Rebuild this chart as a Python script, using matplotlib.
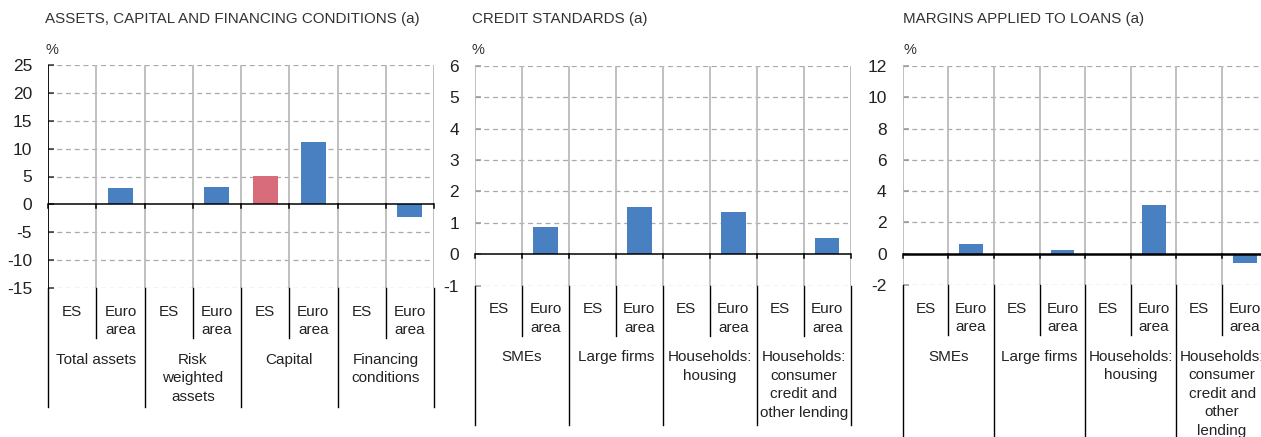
import matplotlib
matplotlib.use("Agg")
import matplotlib.pyplot as plt
from matplotlib.transforms import blended_transform_factory

plt.rcParams['font.family'] = ['Liberation Sans', 'DejaVu Sans']

# data
sub_labels = ["ES", "Euro\narea"]

titles = ["ASSETS, CAPITAL AND FINANCING CONDITIONS (a)",
          "CREDIT STANDARDS (a)",
          "MARGINS APPLIED TO LOANS (a)"]

groups1 = ["Total assets", "Risk\nweighted\nassets", "Capital", "Financing\nconditions"]
es1 = [0, 0, 5.1, 0]
ea1 = [2.9, 3.2, 11.2, -2.3]

groups2 = ["SMEs", "Large firms", "Households:\nhousing",
           "Households:\nconsumer\ncredit and\nother lending"]
es2 = [0, 0, 0, 0]
ea2 = [0.85, 1.5, 1.33, 0.53]

groups3 = ["SMEs", "Large firms", "Households:\nhousing",
           "Households:\nconsumer\ncredit and\nother\nlending"]
es3 = [0, 0, 0, 0]
ea3 = [0.6, 0.22, 3.1, -0.62]

yticks1 = [-15, -10, -5, 0, 5, 10, 15, 20, 25]
yticks2 = [-1, 0, 1, 2, 3, 4, 5, 6]
yticks3 = [-2, 0, 2, 4, 6, 8, 10, 12]

BLUE = "#4880c2"
RED = "#d96c7a"
TXT = "#222222"

W, H = 1261, 437
fig = plt.figure(figsize=(W / 100, H / 100), dpi=100)


def panel(rect, title, title_x, groups, es, ea, yticks, major_px, zero_lw, left_black):
    ax = fig.add_axes(rect)
    ax_h_px = rect[3] * H
    n = len(groups)
    xs_es = [2 * i for i in range(n)]
    xs_ea = [2 * i + 1 for i in range(n)]
    ax.bar(xs_es, es, width=0.52, color=RED, zorder=3)
    ax.bar(xs_ea, ea, width=0.52, color=BLUE, zorder=3)
    ax.set_xlim(-0.5, 2 * n - 0.5)
    ax.set_ylim(yticks[0], yticks[-1])
    ax.set_yticks(yticks)
    ax.set_yticklabels([str(t) for t in yticks], fontsize=12.5, color=TXT)
    ax.tick_params(axis='y', direction='in', length=4, width=1.1,
                   color='#333333' if left_black else '#999999', pad=11.5)
    ax.set_xticks([])
    for t in yticks:
        if t != 0:
            ax.axhline(t, color="#aaaaaa", lw=0.9, ls=(0, (4, 3)), zorder=1)
    for b in range(1, 2 * n):
        ax.axvline(b - 0.5, color="#bbbbbb", lw=1.3, zorder=1)
    ax.axhline(0, color="black", lw=zero_lw, zorder=4)
    for s in ax.spines.values():
        s.set_visible(False)
    ax.axvline(-0.5, color="black" if left_black else "#bbbbbb", lw=1.3, zorder=2)
    ax.axvline(2 * n - 0.5, color="#bbbbbb", lw=1.3, zorder=2)

    tr = blended_transform_factory(ax.transData, ax.transAxes)
    z = (0 - yticks[0]) / (yticks[-1] - yticks[0])
    # small ticks at zero line
    for b in range(0, 2 * n + 1):
        ax.plot([b - 0.5, b - 0.5], [z, z - 4 / ax_h_px], color="black", lw=1.1,
                transform=tr, clip_on=False, zorder=5)
    # separators under the axis
    for b in range(0, 2 * n + 1):
        length = major_px if b % 2 == 0 else 50
        ax.plot([b - 0.5, b - 0.5], [0, -length / ax_h_px], color="black", lw=1.0,
                transform=tr, clip_on=False)
    for i in range(n):
        for j, lab in enumerate(sub_labels):
            ax.annotate(lab, xy=(2 * i + j, 0), xycoords=tr, xytext=(0, -12),
                        textcoords='offset points', ha='center', va='top',
                        fontsize=11, color=TXT, linespacing=1.42)
        ax.annotate(groups[i], xy=(2 * i + 0.5, 0), xycoords=tr, xytext=(0, -46.5),
                    textcoords='offset points', ha='center', va='top',
                    fontsize=11, color=TXT, linespacing=1.42)
    fig.text(title_x / W, 1 - 19 / H, title, fontsize=10.9, color="#333333",
             ha='left', va='center')
    fig.text((title_x) / W, 1 - 50 / H, "%", fontsize=10.5, color="#333333",
             ha='left', va='center')
    return ax


panel([48 / W, 149 / H, 386 / W, 223 / H], titles[0], 45,
      groups1, es1, ea1, yticks1, 119, 1.1, True)
panel([475 / W, 151.5 / H, 375.7 / W, 219.5 / H], titles[1], 472,
      groups2, es2, ea2, yticks2, 139, 1.1, False)
panel([902.7 / W, 152 / H, 365 / W, 219 / H], titles[2], 903,
      groups3, es3, ea3, yticks3, 170, 1.8, False)

fig.savefig("out.png", dpi=100)
